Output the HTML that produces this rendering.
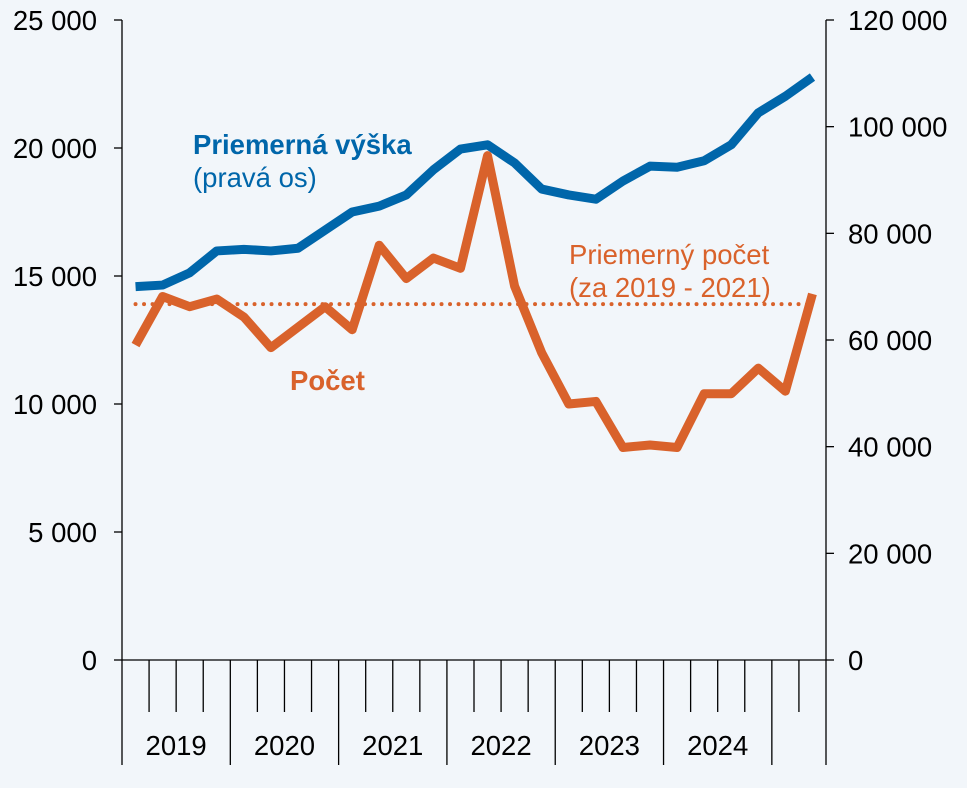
<!DOCTYPE html>
<html><head><meta charset="utf-8"><style>
html,body{margin:0;padding:0;background:#f2f6fa;}
svg{display:block;font-family:"Liberation Sans",sans-serif;}
</style></head><body>
<svg id="chart" width="967" height="788" viewBox="0 0 967 788">
<rect width="967" height="788" fill="#f2f6fa"/>
<g id="axes"></g><g id="series"></g>
<text x="193" y="154" font-size="27.5" font-weight="bold" fill="#0066aa">Priemerná výška</text>
<text x="193" y="187" font-size="27.5" fill="#0066aa">(pravá os)</text>
<text x="569" y="264" font-size="27.5" fill="#d9622b">Priemerný počet</text>
<text x="569" y="297" font-size="27.5" fill="#d9622b">(za 2019 - 2021)</text>
<text x="290" y="390" font-size="27.5" font-weight="bold" fill="#d9622b">Počet</text>
</svg>
<script>
const years = ["2019","2020","2021","2022","2023","2024"];
const countValues = [12300,14200,13800,14100,13400,12200,13000,13800,12900,16200,14900,15700,15300,19700,14600,12000,10000,10100,8300,8400,8300,10400,10400,11400,10500,14300];
const amountValues = [70000,70300,72600,76700,77000,76700,77200,80600,84000,85100,87200,91900,95800,96600,93200,88300,87200,86400,89800,92600,92400,93600,96600,102600,105700,109300];
const averageCount = [13900];
const leftTicks = [0,5000,10000,15000,20000,25000];
const rightTicks = [0,20000,40000,60000,80000,100000,120000];

const NS="http://www.w3.org/2000/svg";
const X0=122,X1=826,Y0=660,Y1=20,N=countValues.length;
const step=(X1-X0)/N;
const xc=i=>X0+(i+0.5)*step;
const yL=v=>Y0-(v/25000)*(Y0-Y1);
const yR=v=>Y0-(v/120000)*(Y0-Y1);
const fmt=v=>v>=1000?Math.floor(v/1000)+" "+String(v%1000).padStart(3,"0"):String(v);
function mk(t,a,p){const e=document.createElementNS(NS,t);for(const k in a)e.setAttribute(k,a[k]);p.appendChild(e);return e;}
const ax=document.getElementById("axes"),se=document.getElementById("series");
let e;
e=mk("line",{x1:X0,y1:Y1,x2:X0,y2:Y0,stroke:"#000","stroke-width":1.3},ax);


e=mk("line",{x1:X1,y1:Y1,x2:X1,y2:Y0,stroke:"#000","stroke-width":1.3},ax);


e=mk("line",{x1:X0,y1:Y0,x2:X1,y2:Y0,stroke:"#000","stroke-width":1.3},ax);


leftTicks.forEach(v=>{
 let l=mk("line",{x1:X0-8,y1:yL(v),x2:X0,y2:yL(v),stroke:"#000","stroke-width":1.3},ax);
 
 
 let t=mk("text",{x:97,y:yL(v)+10,"text-anchor":"end","font-size":27.5,fill:"#000"},ax);t.textContent=fmt(v);
 
 
});
rightTicks.forEach(v=>{
 let l=mk("line",{x1:X1,y1:yR(v),x2:X1+8,y2:yR(v),stroke:"#000","stroke-width":1.3},ax);
 
 
 let t=mk("text",{x:848,y:yR(v)+10,"font-size":27.5,fill:"#000"},ax);t.textContent=fmt(v);
 
 
});
for(let i=0;i<=N;i++){
 const long=(i%4===0)||i===N;
 let l=mk("line",{x1:X0+i*step,y1:Y0,x2:X0+i*step,y2:long?765:712,stroke:"#000","stroke-width":1.3},ax);
 
 
}
years.forEach((y,k)=>{
 let t=mk("text",{x:X0+(k*4+2)*step,y:755,"text-anchor":"middle","font-size":27.5,fill:"#000"},ax);t.textContent=y;
 
 
});
e=mk("line",{x1:xc(0),y1:yL(averageCount[0]),x2:xc(N-1),y2:yL(averageCount[0]),stroke:"#d9622b","stroke-width":4,"stroke-dasharray":"0 8.5","stroke-linecap":"round"},se);


e=mk("polyline",{points:amountValues.map((v,i)=>xc(i)+","+yR(v)).join(" "),fill:"none",stroke:"#0066aa","stroke-width":9,"stroke-linejoin":"round"},se);


e=mk("polyline",{points:countValues.map((v,i)=>xc(i)+","+yL(v)).join(" "),fill:"none",stroke:"#d9622b","stroke-width":9,"stroke-linejoin":"round"},se);


</script>
</body></html>
